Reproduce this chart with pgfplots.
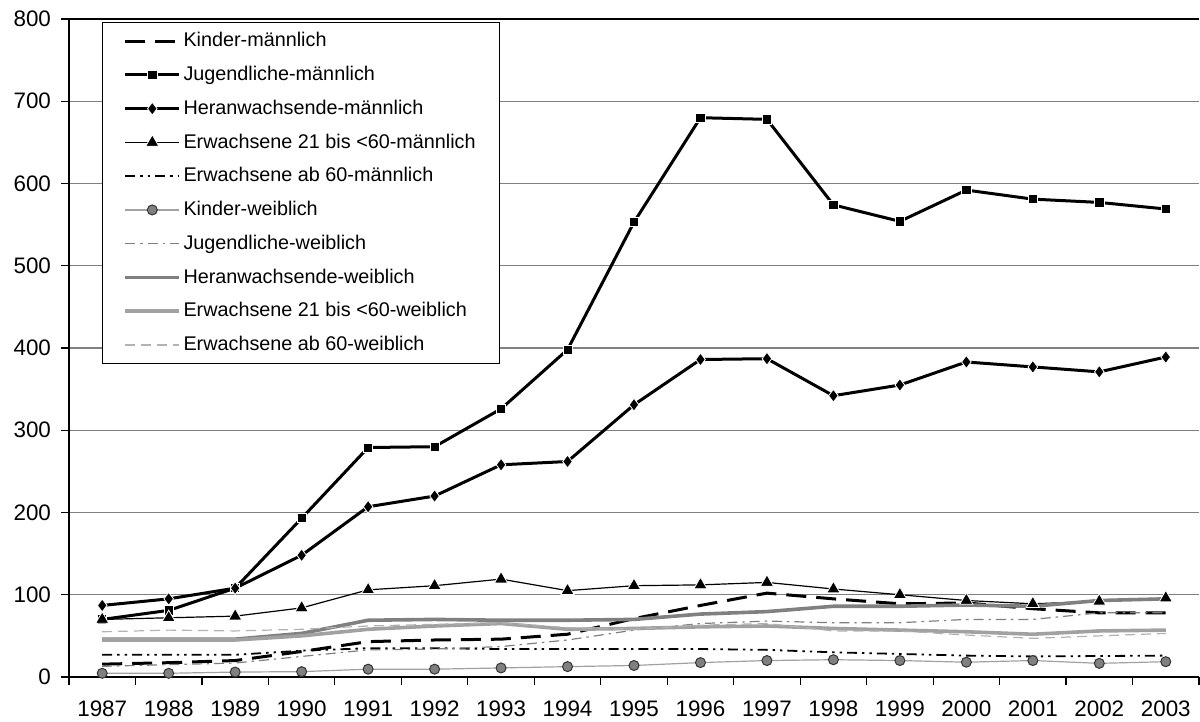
\documentclass[border=0pt]{standalone}
\usepackage{pgfplots}
\pgfplotsset{compat=1.18}
\usepackage{fontspec}
\setmainfont{Liberation Sans}
\definecolor{gridc}{gray}{0.5}
\definecolor{dgray}{gray}{0.5}
\definecolor{mgray}{gray}{0.63}
\definecolor{lgray}{gray}{0.7}
\begin{document}
\begin{tikzpicture}
\begin{axis}[
  scale only axis, width=565pt, height=329pt,
  xmin=1986.5, xmax=2003.5, ymin=0, ymax=800,
  axis lines*=left,
  axis line style={black, line width=0.8pt},
  xtick={1986.5,1987.5,...,2003.5}, xticklabels={},
  extra x ticks={1987,1988,...,2003},
  extra x tick labels={1987,1988,1989,1990,1991,1992,1993,1994,1995,1996,1997,1998,1999,2000,2001,2002,2003},
  extra x tick style={major tick length=0pt, xticklabel style={yshift=-8.5pt}},
  ytick={0,100,...,800},
  ymajorgrids, grid style={draw=gridc, line width=0.6pt},
  tick align=outside, major tick length=4pt,
  tick style={black, line width=0.6pt},
  ticklabel style={font=\fontsize{11.2}{13}\selectfont},
  yticklabel style={/pgf/number format/assume math mode=true, xshift=-1.5pt},
  clip=false,
  legend style={at={(0.0292,0.9954)}, anchor=north west, draw=black, line width=0.5pt,
    fill=white, font=\fontsize{9.9}{11.5}\selectfont, row sep=6.2pt,
    inner xsep=10.5pt, inner ysep=4pt, nodes={inner xsep=1.2pt, inner ysep=1pt}, cells={anchor=west}},
  legend image code/.code={\draw[mark repeat=2,mark phase=2,#1] plot coordinates {(0pt,0pt) (13.5pt,0pt) (27pt,0pt)};},
]
\draw[black, line width=0.8pt] (axis cs:1986.5,800) -- (axis cs:2003.5,800);
% Kinder-maennlich
\addplot[black, line width=1.5pt, dash pattern=on 10pt off 5pt] coordinates {
(1987,15.6)(1988,17.4)(1989,20)(1990,31)(1991,43)(1992,45)(1993,46)(1994,52)(1995,71)(1996,87)(1997,102)(1998,95)(1999,89)(2000,90)(2001,83)(2002,78)(2003,78)};
\addlegendentry{Kinder-männlich}
% Jugendliche-maennlich
\addplot[black, line width=1.5pt, mark=square*, mark size=2.3pt, mark options={solid, fill=black, draw=white, line width=0.4pt}] coordinates {
(1987,70)(1988,81)(1989,108)(1990,193)(1991,279)(1992,280)(1993,326)(1994,398)(1995,553)(1996,680)(1997,678)(1998,574)(1999,554)(2000,592)(2001,581)(2002,577)(2003,569)};
\addlegendentry{Jugendliche-männlich}
% Heranwachsende-maennlich
\addplot[black, line width=1.5pt, mark=diamond*, mark size=3.2pt, mark options={solid, fill=black, draw=white, line width=0.4pt}] coordinates {
(1987,87)(1988,95)(1989,108)(1990,148)(1991,207)(1992,220)(1993,258)(1994,262)(1995,331)(1996,386)(1997,387)(1998,342)(1999,355)(2000,383)(2001,377)(2002,371)(2003,389)};
\addlegendentry{Heranwachsende-männlich}
% Erwachsene 21 bis <60 maennlich
\addplot[black, line width=0.6pt, mark=triangle*, mark size=3.8pt, mark options={solid, fill=black, draw=white, line width=0.4pt}] coordinates {
(1987,70)(1988,72)(1989,74)(1990,84)(1991,106)(1992,111)(1993,119)(1994,105)(1995,111)(1996,112)(1997,115)(1998,107)(1999,100)(2000,93)(2001,89)(2002,92)(2003,96)};
\addlegendentry{Erwachsene 21 bis <60-männlich}
% Erwachsene ab 60 maennlich
\addplot[black, line width=0.9pt, dash pattern=on 5pt off 2.5pt on 1.2pt off 2.5pt on 1.2pt off 2.5pt] coordinates {
(1987,27)(1988,27)(1989,27)(1990,32)(1991,35)(1992,35)(1993,34)(1994,34)(1995,34)(1996,34)(1997,33)(1998,30)(1999,28)(2000,26)(2001,25)(2002,25.5)(2003,26)};
\addlegendentry{Erwachsene ab 60-männlich}
% Kinder-weiblich
\addplot[mgray, line width=0.6pt, mark=*, mark size=2.5pt, mark options={solid, fill=dgray, draw=black!80, line width=0.5pt}] coordinates {
(1987,4.5)(1988,4.5)(1989,6)(1990,6.5)(1991,9.5)(1992,9.5)(1993,11)(1994,12.6)(1995,14)(1996,17.5)(1997,20)(1998,21)(1999,20)(2000,18)(2001,20)(2002,16.6)(2003,18.6)};
\addlegendentry{Kinder-weiblich}
% Jugendliche-weiblich
\addplot[dgray, line width=0.6pt, dash pattern=on 5pt off 2.5pt on 1.2pt off 2.5pt] coordinates {
(1987,13)(1988,15)(1989,17)(1990,25)(1991,33)(1992,34)(1993,37)(1994,45)(1995,57)(1996,65)(1997,68)(1998,66)(1999,66)(2000,70)(2001,70)(2002,78)(2003,78)};
\addlegendentry{Jugendliche-weiblich}
% Heranwachsende-weiblich
\addplot[dgray, line width=1.8pt] coordinates {
(1987,46)(1988,46)(1989,46)(1990,53)(1991,69)(1992,70)(1993,69)(1994,69)(1995,70)(1996,76.5)(1997,79.5)(1998,86)(1999,86)(2000,87.5)(2001,86)(2002,93)(2003,95)};
\addlegendentry{Heranwachsende-weiblich}
% Erwachsene 21 bis <60 weiblich
\addplot[mgray, line width=1.8pt] coordinates {
(1987,45)(1988,45)(1989,45)(1990,50)(1991,58)(1992,62)(1993,65)(1994,58)(1995,59)(1996,61)(1997,62)(1998,59)(1999,57)(2000,55)(2001,52)(2002,56)(2003,57)};
\addlegendentry{Erwachsene 21 bis <60-weiblich}
% Erwachsene ab 60 weiblich
\addplot[lgray, line width=0.6pt, dash pattern=on 5pt off 3pt] coordinates {
(1987,55)(1988,57)(1989,56)(1990,58)(1991,62)(1992,64)(1993,66)(1994,60)(1995,58)(1996,63)(1997,65)(1998,56)(1999,56)(2000,51)(2001,47)(2002,50)(2003,53)};
\addlegendentry{Erwachsene ab 60-weiblich}
\end{axis}
\pgfresetboundingbox
\path[use as bounding box] (current axis.south west) ++(-34.5pt,-22.5pt) rectangle ++(600pt,361pt);
\end{tikzpicture}
\end{document}
